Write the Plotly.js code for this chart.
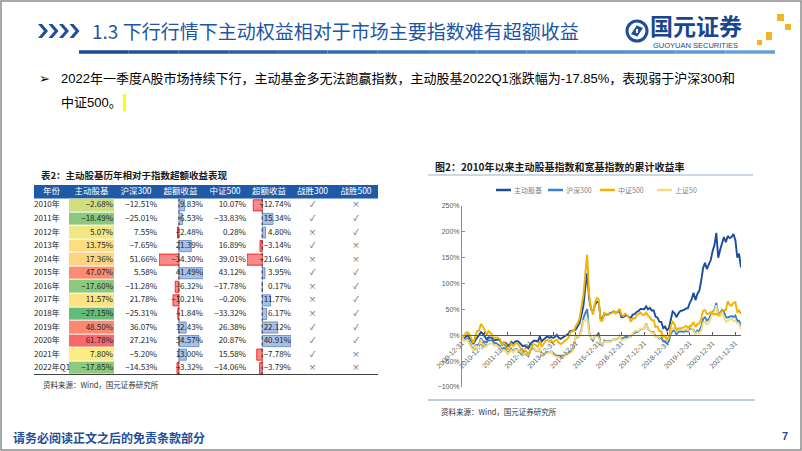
<!DOCTYPE html>
<html>
<head>
<meta charset="utf-8">
<script src="https://cdn.plot.ly/plotly-3.0.1.min.js"></script>
<style>
html, body { margin: 0; padding: 0; background: #fff; }
#chart { width: 802px; height: 451px; }
</style>
</head>
<body>
<div id="chart"></div>
<script>
// Table 2: yearly returns (%)
const tableHead = ['年份', '主动股基', '沪深300', '超额收益', '中证500', '超额收益', '战胜300', '战胜500'];
const years = ['2010年', '2011年', '2012年', '2013年', '2014年', '2015年', '2016年', '2017年', '2018年', '2019年', '2020年', '2021年', '2022年Q1'];
const activeRet = [-2.68, -18.49, 5.07, 13.75, 17.36, 47.07, -17.60, 11.57, -27.15, 48.50, 61.78, 7.80, -17.85];
const hs300Ret = [-12.51, -25.01, 7.55, -7.65, 51.66, 5.58, -11.28, 21.78, -25.31, 36.07, 27.21, -5.20, -14.53];
const excess300 = [9.83, 6.53, -2.48, 21.39, -34.30, 41.49, -6.32, -10.21, -1.84, 12.43, 34.57, 13.00, -3.32];
const zz500Ret = [10.07, -33.83, 0.28, 16.89, 39.01, 43.12, -17.78, -0.20, -33.32, 26.38, 20.87, 15.58, -14.06];
const excess500 = [-12.74, 15.34, 4.80, -3.14, -21.64, 3.95, 0.17, 11.77, 6.17, 22.12, 40.91, -7.78, -3.79];
const beat300 = ['✓', '✓', '×', '✓', '×', '✓', '×', '×', '×', '✓', '✓', '✓', '×'];
const beat500 = ['×', '✓', '✓', '×', '×', '✓', '✓', '✓', '✓', '✓', '✓', '×', '×'];

// Figure 2: cumulative return since 2009-12-31 (%), month ends 2009-12 .. 2022-03
const seriesNames = ['主动股基', '沪深300', '中证500', '上证50'];
const seriesColors = ['#1C4C9C', '#3A83CC', '#F2B300', '#F9D978'];
const activeCum = [0,
  -6, -3, 0, -5, -12, -17, -10, -4, 0, 6, 3, -2.7,
  -8, -4, -4, -5, -10, -9, -8, -10, -17, -14, -15, -20.7,
  -19, -13, -16, -12, -11, -13, -18, -21, -20, -22, -25, -16.7,
  -12, -10, -11, -12, -2, -12, -8, -4, -2, -5, -3, -5.2,
  -3, 1, -5, -7, -5, -3, 0, 3, 8, 9, 9, 11.3,
  17, 24, 40, 57, 92, 120, 72, 50, 45, 58, 65, 63.6,
  33, 32, 42, 40, 40, 43, 44, 46, 43, 45, 47, 34.8,
  35, 38, 38, 35, 34, 40, 41, 45, 47, 51, 50, 50.4,
  56, 50, 53, 48, 48, 36, 34, 26, 26, 14, 17, 9.6,
  14, 32, 46, 43, 35, 42, 47, 48, 49, 52, 52, 62.8,
  70, 82, 68, 80, 86, 105, 130, 140, 128, 137, 145, 163,
  175, 198, 150, 165, 178, 190, 180, 192, 188, 190, 196, 184,
  150, 158, 131];
const hs300Cum = [0,
  -10.4, -8.2, -6.4, -14.2, -22.9, -28.3, -19.8, -18.8, -17.9, -5.5, -11.5, -12.5,
  -13.9, -9.4, -9.0, -9.8, -16.0, -14.9, -17.8, -20.5, -28.5, -24.8, -27.4, -34.4,
  -31.1, -26.3, -31.3, -26.5, -27.0, -31.1, -34.7, -38.4, -35.9, -37.0, -40.1, -29.5,
  -24.8, -25.2, -30.2, -30.7, -26.2, -39.5, -38.7, -33.8, -32.6, -33.8, -30.8, -34.8,
  -38.4, -39.1, -40.0, -39.6, -39.6, -39.4, -34.6, -34.9, -31.4, -29.8, -21.5, -1.2,
  -3.9, -0.1, 10.9, 32.8, 43.3, 50.5, 6.8, -5.8, -10.4, -1.1, -0.3, 4.4,
  -17.6, -19.5, -10.0, -11.7, -11.4, -11.8, -10.4, -6.9, -9.0, -6.7, -1.0, -7.4,
  -5.3, -3.4, -3.3, -3.8, -2.3, 2.5, 4.5, 6.9, 7.3, 11.7, 12.1, 12.8,
  22.8, 12.5, 9.0, 5.1, 6.3, -1.8, -1.6, -6.7, -3.8, -11.8, -11.2, -15.8,
  -10.5, 2.7, 8.3, 9.5, 1.5, 7.0, 7.3, 6.3, 6.7, 8.7, 7.1, 14.6,
  11.9, 10.2, 3.1, 9.4, 8.2, 16.5, 31.4, 34.7, 28.3, 31.3, 39.3, 45.8,
  49.7, 62.5, 41.2, 43.3, 49.1, 46.1, 34.6, 34.4, 36.1, 37.3, 35.2, 38.2,
  27.7, 28.1, 18.1];
const zz500Cum = [0,
  -2, 4, 6, 2, -6, -15, -3, 8, 9, 22, 17, 10.1,
  0, 8, 5, 1, -6, -4, -5, -7, -18, -14, -17, -27.2,
  -24, -16, -21, -16, -15, -19, -27, -31, -29, -32, -38, -27.0,
  -20, -17, -20, -22, -11, -22, -17, -11, -9, -12, -9, -14.6,
  -10, -8, -14, -17, -15, -12, -9, -5, 5, 7, 10, 18.7,
  24, 33, 55, 77, 120, 156, 77, 52, 40, 61, 72, 69.9,
  28, 28, 43, 41, 40, 42, 43, 47, 42, 46, 51, 39.7,
  37.5, 42, 39, 34, 26, 33, 32, 38, 42, 44, 40, 39.4,
  44, 38, 35, 29, 29, 16, 17, 7.5, 8, -3, -1, -7.1,
  -3.5, 17, 26, 22, 10, 13, 13, 14, 16, 18, 15, 17.5,
  19, 26, 16, 22, 23, 32, 47, 49, 41, 42, 45, 42.0,
  40, 42, 39, 42, 47, 49, 49, 66, 59, 57, 63, 64.1,
  44, 48, 41];
const sz50Cum = [0,
  -11, -10, -9, -17, -25, -30, -21, -22, -22, -8, -17, -22.6,
  -21, -17, -16, -16, -20, -19, -22, -24, -30, -28, -30, -36.7,
  -33, -29, -33, -28, -28, -32, -35, -38, -35, -35, -39, -27.3,
  -22, -24, -30, -30, -27, -39, -39, -34, -33, -34, -31, -38.3,
  -41, -42, -42, -42, -41, -41, -35, -36, -34, -32, -23, 1.1,
  -3, -1, 8, 28, 29, 34, 5, -5, -7, 0, -1, -5.2,
  -16, -18, -12, -13, -13, -13, -11, -7, -9, -8, -1, -10.4,
  -8, -7, -7, -5, -1, 4, 8, 9, 8, 13, 13, 12.1,
  22, 13, 9, 4, 5, -3, -1, -5, 2, -4, -5, -10.2,
  -4, 8, 13, 15, 6, 13, 13, 11, 10, 12, 10, 20.0,
  13, 9, 2, 6, 4, 9, 24, 26, 21, 24, 33, 42.6,
  47, 58, 38, 37, 41, 37, 26, 28, 31, 32, 28, 28.3,
  23, 22, 11.6];
const tickDates = ['2009-12-31', '2010-12-31', '2011-12-31', '2012-12-31', '2013-12-31', '2014-12-31', '2015-12-31',
  '2016-12-31', '2017-12-31', '2018-12-31', '2019-12-31', '2020-12-31', '2021-12-31'];

// Pixel helpers (page is 802x451, no margins)
const W = 802, H = 451;
const X = v => v / W;
const Y = v => 1 - v / H;
const P = (x, y) => X(x).toFixed(5) + ',' + Y(y).toFixed(5);

const CJK = 'Noto Sans CJK SC';
const LAT = 'Liberation Sans, Noto Sans CJK SC';
const BLUE = '#1F4E9A';

// month-end dates
const monthEnds = activeCum.map((_, i) => new Date(Date.UTC(2009, 12 + i, 0)).toISOString().slice(0, 10));

// ---------- table ----------
const colEdges = [34, 69, 114, 158, 203, 247, 291, 334, 378];
const colMid = i => (colEdges[i] + colEdges[i + 1]) / 2;
const rows = years.map((_, i) => i + 1);
const rowEdges = [0.5].concat(rows.map(r => r + 0.5));
const fmt = v => (v < 0 ? '−' : '') + Math.abs(v).toFixed(2) + '%';

const sortedActive = activeRet.slice().sort((a, b) => a - b);
const aMin = sortedActive[0], aMax = sortedActive[sortedActive.length - 1];
const aMed = sortedActive[Math.floor(sortedActive.length / 2)];
const heatMid = (aMed - aMin) / (aMax - aMin);

const traces = [];

traces.push({
    type: 'heatmap', xaxis: 'x2', yaxis: 'y2',
    x: [colEdges[1], colEdges[2]], y: rowEdges,
    z: activeRet.map(v => [v]),
    zmin: aMin, zmax: aMax,
    colorscale: [[0, '#63BE7B'], [heatMid, '#FFEB84'], [1, '#F8696B']],
    showscale: false, ygap: 1, hoverinfo: 'skip'
});

function textTrace(xs, ys, texts, pos, color, size, ax) {
    return {
        type: 'scatter', mode: 'text', xaxis: ax || 'x2', yaxis: 'y2',
        x: xs, y: ys, text: texts, textposition: pos,
        textfont: { family: CJK, size: size || 8, color: color || '#262626' },
        hoverinfo: 'skip', cliponaxis: false
    };
}

// header
traces.push(textTrace(tableHead.map((_, i) => colMid(i)), tableHead.map(() => 0), tableHead, 'middle center', '#ffffff', 8.5));
// year column (left aligned)
traces.push(textTrace(rows.map(() => colEdges[0]), rows, years, 'middle right'));
// plain number columns
[[1, activeRet], [2, hs300Ret], [4, zz500Ret]].forEach(([c, vals]) => {
    traces.push(textTrace(rows.map(() => colEdges[c + 1] - 1), rows, vals.map(fmt), 'middle left'));
});
// check marks
traces.push(textTrace(rows.map(() => colMid(6)), rows, beat300, 'middle center', '#555555'));
traces.push(textTrace(rows.map(() => colMid(7)), rows, beat500, 'middle center', '#555555'));

// data bars for the two excess columns
[['x3', excess300], ['x4', excess500]].forEach(([ax, vals]) => {
    traces.push({
        type: 'bar', orientation: 'h', xaxis: ax, yaxis: 'y2',
        y: rows, x: vals, width: 0.82,
        marker: {
            color: vals.map(v => v >= 0 ? '#A9C0E6' : '#F78A8A'),
            line: { color: vals.map(v => v >= 0 ? '#5B86C5' : '#FF0000'), width: 0.8 }
        },
        hoverinfo: 'skip'
    });
    const hi = Math.max(...vals);
    traces.push(textTrace(rows.map(() => hi), rows, vals.map(fmt), 'middle left', '#262626', 8, ax));
});

// ---------- line chart ----------
const seriesData = [activeCum, hs300Cum, zz500Cum, sz50Cum];
[1, 0, 3, 2].forEach(i => {
    traces.push({
        type: 'scatter', mode: 'lines', name: seriesNames[i],
        x: monthEnds, y: seriesData[i], xaxis: 'x', yaxis: 'y',
        line: { color: seriesColors[i], width: 1.9 },
        hoverinfo: 'skip'
    });
});

const yDom = [Y(387), Y(206)];
const yRange = [-100, 250];
const yZeroFrac = yDom[0] + (0 - yRange[0]) / (yRange[1] - yRange[0]) * (yDom[1] - yDom[0]);

// ---------- decoration ----------
const shapes = [];
const annotations = [];

function label(text, x, y, size, color, opts) {
    annotations.push(Object.assign({
        xref: 'paper', yref: 'paper', x: X(x), y: Y(y), text: text,
        showarrow: false, xanchor: 'left', yanchor: 'middle',
        font: { family: CJK, size: size, color: color }
    }, opts || {}));
}

// slide border
shapes.push({ type: 'rect', xref: 'paper', yref: 'paper', x0: X(1), x1: X(801), y0: Y(1), y1: Y(450),
    line: { color: '#8C8C8C', width: 1.5 } });

// title chevrons
for (let k = 0; k < 4; k++) {
    const x = 38 + k * 10.5;
    shapes.push({ type: 'path', xref: 'paper', yref: 'paper',
        path: 'M' + P(x, 24) + ' L' + P(x + 6, 31) + ' L' + P(x, 38) + ' L' + P(x + 4, 38) + ' L' + P(x + 10, 31) + ' L' + P(x + 4, 24) + ' Z',
        fillcolor: BLUE, line: { width: 0 } });
}
label('1.3 下行行情下主动权益相对于市场主要指数难有超额收益', 90, 31, 19, '#2055A4');

// gradient rule under the title
const segs = 14;
for (let k = 0; k < segs; k++) {
    const t = k / (segs - 1);
    const r = Math.round(26 + t * (100 - 26)), g = Math.round(74 + t * (160 - 74)), b = Math.round(150 + t * (220 - 150));
    shapes.push({ type: 'line', xref: 'paper', yref: 'paper',
        x0: X(79 + k * 696 / segs), x1: X(79 + (k + 1) * 696 / segs), y0: Y(52), y1: Y(52),
        line: { color: `rgb(${r},${g},${b})`, width: 3.5 } });
}

// logo
shapes.push({ type: 'circle', xref: 'paper', yref: 'paper', x0: X(627), x1: X(647), y0: Y(41), y1: Y(21),
    line: { color: BLUE, width: 3 }, fillcolor: '#ffffff' });
shapes.push({ type: 'path', xref: 'paper', yref: 'paper',
    path: 'M' + P(631, 34) + ' L' + P(637, 25) + ' L' + P(640, 29) + ' L' + P(636, 29) + ' L' + P(636, 36) + ' Z',
    fillcolor: BLUE, line: { width: 0 } });
shapes.push({ type: 'path', xref: 'paper', yref: 'paper',
    path: 'M' + P(643, 28) + ' L' + P(637, 37) + ' L' + P(634, 33) + ' L' + P(638, 33) + ' L' + P(638, 26) + ' Z',
    fillcolor: BLUE, line: { width: 0 } });
label('<b>国元证券</b>', 648, 25, 23, '#17468F');
label('GUOYUAN SECURITIES', 651, 45.5, 7.5, '#17468F', { font: { family: LAT, size: 7.5, color: '#17468F' } });
[[777, 14, 7, 7], [785, 24, 6, 6], [766, 32, 6, 8], [757, 40, 5, 5]].forEach(([x, y, w, h]) => {
    shapes.push({ type: 'rect', xref: 'paper', yref: 'paper', x0: X(x), x1: X(x + w), y0: Y(y + h), y1: Y(y),
        fillcolor: '#F2B51C', line: { width: 0 } });
});

// bullet
label('➢', 37, 78, 13, '#000000', { font: { family: 'DejaVu Sans', size: 13, color: '#000' } });
label('2022年一季度A股市场持续下行，主动基金多无法跑赢指数，主动股基2022Q1涨跌幅为-17.85%，表现弱于沪深300和', 59, 78, 13, '#000',
    { font: { family: LAT, size: 13, color: '#000' } });
label('中证500。', 59, 102, 13, '#000', { font: { family: LAT, size: 13, color: '#000' } });
shapes.push({ type: 'rect', xref: 'paper', yref: 'paper', x0: X(123), x1: X(126), y0: Y(111), y1: Y(94),
    fillcolor: '#FFFF00', line: { width: 0 } });

// table decoration
label('<b>表2：主动股基历年相对于指数超额收益表现</b>', 39, 175, 9.5, '#1a1a1a');
shapes.push({ type: 'rect', xref: 'x2', yref: 'y2', x0: colEdges[0], x1: colEdges[8], y0: -0.5, y1: 0.5,
    fillcolor: '#1E5AA8', line: { width: 0 }, layer: 'below' });
shapes.push({ type: 'line', xref: 'x2', yref: 'y2', x0: colEdges[0], x1: colEdges[8], y0: 13.5, y1: 13.5,
    line: { color: '#000', width: 1.5 } });
['x3', 'x4'].forEach(ax => {
    shapes.push({ type: 'line', xref: ax, yref: 'y2', x0: 0, x1: 0, y0: 0.5, y1: 13.5,
        line: { color: '#333', width: 1, dash: 'dot' } });
});
label('资料来源：Wind，国元证券研究所', 41, 384, 7.5, '#333');

// chart decoration
label('<b>图2：2010年以来主动股基指数和宽基指数的累计收益率</b>', 433, 166, 10, '#1a1a1a');
shapes.push({ type: 'line', xref: 'paper', yref: 'paper', x0: X(428), x1: X(753), y0: Y(175), y1: Y(175),
    line: { color: '#BCCBDD', width: 1.5 } });
shapes.push({ type: 'line', xref: 'paper', yref: 'paper', x0: X(428), x1: X(755), y0: Y(400), y1: Y(400),
    line: { color: '#A9BED6', width: 1.5 } });
label('资料来源：Wind，国元证券研究所', 439, 411, 7.5, '#333');

const legendX = [496, 548, 600, 657];
seriesNames.forEach((name, i) => {
    shapes.push({ type: 'line', xref: 'paper', yref: 'paper', x0: X(legendX[i]), x1: X(legendX[i] + 15), y0: Y(190), y1: Y(190),
        line: { color: seriesColors[i], width: 2.5 } });
    label(name, legendX[i] + 16, 190, 7, '#7F7F7F');
});

// footer
label('<b>请务必阅读正文之后的免责条款部分</b>', 11, 437, 12, BLUE);
label('<b>7</b>', 780, 436, 11, BLUE, { font: { family: LAT, size: 11, color: BLUE } });

const layout = {
    width: W, height: H,
    margin: { l: 0, r: 0, t: 0, b: 0 },
    paper_bgcolor: '#ffffff', plot_bgcolor: 'rgba(0,0,0,0)',
    showlegend: false, hovermode: false,
    font: { family: CJK },
    xaxis: {
        type: 'date', domain: [X(462), X(741)], range: ['2009-12-31', '2022-03-31'],
        anchor: 'free', position: yZeroFrac,
        tickmode: 'array', tickvals: tickDates, ticktext: tickDates, tickangle: -45,
        tickfont: { family: LAT, size: 7, color: '#595959' },
        showline: true, linecolor: '#595959', linewidth: 1,
        ticks: 'inside', ticklen: 3, tickcolor: '#595959',
        showgrid: false, zeroline: false, fixedrange: true
    },
    yaxis: {
        domain: yDom, range: yRange, dtick: 50, ticksuffix: '%', anchor: 'x',
        tickfont: { family: LAT, size: 7, color: '#595959' },
        showline: true, linecolor: '#8C8C8C', linewidth: 1,
        ticks: 'inside', ticklen: 3, tickcolor: '#8C8C8C',
        showgrid: false, zeroline: false, fixedrange: true
    },
    xaxis2: { domain: [0, 1], range: [0, W], visible: false, anchor: 'y2', fixedrange: true },
    yaxis2: { domain: [Y(375), Y(185)], range: [13.5, -0.5], visible: false, anchor: 'x2', fixedrange: true },
    xaxis3: { domain: [X(159), X(203)], range: [Math.min(...excess300), Math.max(...excess300)], visible: false, anchor: 'y2', fixedrange: true },
    xaxis4: { domain: [X(247), X(291)], range: [Math.min(...excess500), Math.max(...excess500)], visible: false, anchor: 'y2', fixedrange: true },
    shapes: shapes,
    annotations: annotations
};

Plotly.newPlot('chart', traces, layout, { displayModeBar: false, staticPlot: true });
</script>
</body>
</html>
